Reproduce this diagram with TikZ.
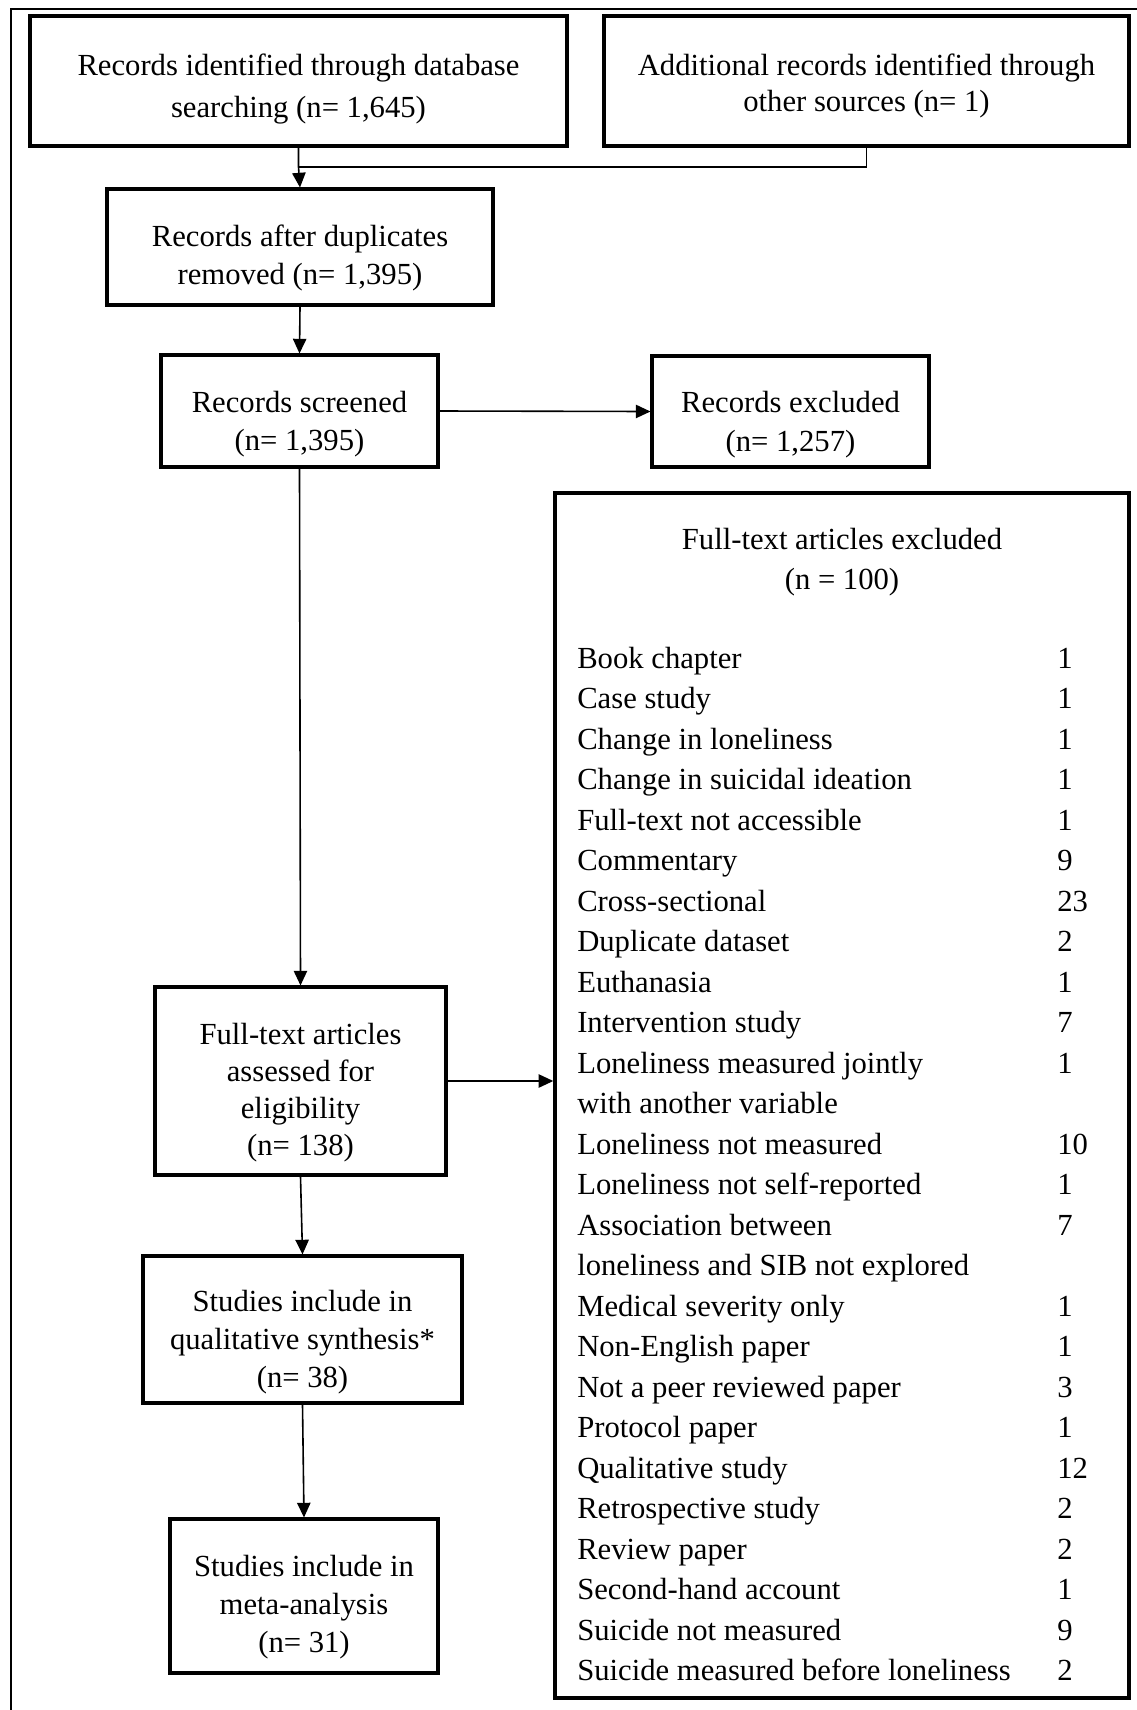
\documentclass[tikz,border=0pt]{standalone}
\usepackage{fontspec}
\setmainfont{Liberation Serif}
\usetikzlibrary{arrows.meta}

% Draws a framed box from its corner coordinates (x1,y1)-(x2,y2),
% with its text set a little below the box centre (#8 = drop in px)
\newcommand\flowbox[8][]{%
  \node[boxstyle, #1,
        minimum width={(#5-#3)*0.75pt},
        minimum height={(#6-#4)*0.75pt}]
    (#2) at ({(#3+#5)/2},{(#4+#6)/2}) {};
  \node[boxtext, #1] (#2text) at ({(#3+#5)/2},{(#4+#6)/2+#8}) {#7};}

\begin{document}
\begin{tikzpicture}[x=0.75pt, y=-0.75pt,
  boxstyle/.style={draw, line width=2.3pt, inner sep=0pt},
  boxtext/.style={draw=none, inner sep=0pt, align=center,
    font=\fontsize{23}{28.5}\selectfont},
  link/.style={line width=1.2pt},
  arrowlink/.style={link, -{Triangle[length=11pt, width=10pt]}},
  listtext/.style={anchor=base west, inner sep=0pt,
    font=\fontsize{23}{30}\selectfont}]

\useasboundingbox (0,0) rectangle (1137,1710);

% page frame (top and left edges)
\draw[line width=1.3pt] (11,1710) -- (11,9) -- (1137,9);

% identification
\flowbox[font=\fontsize{23}{31}\selectfont]{ident}{30}{16}{567}{146}{Records identified through database\\searching (n= 1,645)}{8}
\flowbox[font=\fontsize{23}{27}\selectfont]{other}{604}{16}{1129}{146}{Additional records identified through\\other sources (n= 1)}{5}

% screening
\flowbox{dedup}{107}{189}{493}{305}{Records after duplicates\\removed (n= 1,395)}{11}
\flowbox[font=\fontsize{23}{29}\selectfont]{screen}{161}{355}{438}{467}{Records screened\\(n= 1,395)}{13}
\flowbox[font=\fontsize{23}{29}\selectfont]{recexcl}{652}{356}{929}{467}{Records excluded\\(n= 1,257)}{13}

% eligibility and inclusion
\flowbox[font=\fontsize{23}{27.8}\selectfont]{assess}{155}{987}{446}{1175}{Full-text articles\\assessed for\\eligibility\\(n= 138)}{12}
\flowbox{qual}{143}{1256}{462}{1403}{Studies include in\\qualitative synthesis*\\(n= 38)}{13}
\flowbox{meta}{170}{1519}{438}{1673}{Studies include in\\meta-analysis\\(n= 31)}{11}

% full-text exclusions
\node[boxstyle, line width=2.6pt, minimum width={574*0.75pt},
      minimum height={1205*0.75pt}] (ftexcl) at (842,1095.5) {};
\node[align=center, inner sep=0pt, font=\fontsize{23}{30}\selectfont]
  (fttitle) at (842,562) {Full-text articles excluded\\(n = 100)};

\foreach \i/\reason/\count in {
  0/Book chapter/1,
  1/Case study/1,
  2/Change in loneliness/1,
  3/Change in suicidal ideation/1,
  4/Full-text not accessible/1,
  5/Commentary/9,
  6/Cross-sectional/23,
  7/Duplicate dataset/2,
  8/Euthanasia/1,
  9/Intervention study/7,
  10/Loneliness measured jointly/1,
  11/with another variable/{},
  12/Loneliness not measured/10,
  13/Loneliness not self-reported/1,
  14/Association between/7,
  15/loneliness and SIB not explored/{},
  16/Medical severity only/1,
  17/Non-English paper/1,
  18/Not a peer reviewed paper/3,
  19/Protocol paper/1,
  20/Qualitative study/12,
  21/Retrospective study/2,
  22/Review paper/2,
  23/Second-hand account/1,
  24/Suicide not measured/9,
  25/Suicide measured before loneliness/2}{
  \node[listtext] (reason\i) at (577,{668+40.5*\i}) {\reason};
  \node[listtext] (count\i) at (1057,{668+40.5*\i}) {\count};
}

% connectors
\coordinate (merge) at (ident.south |- 0,167);
\draw[link] (other.south) |- (merge);
\draw[arrowlink] (ident.south) -- (merge) -- (dedup.north);
\draw[arrowlink] (dedup.south) -- (screen.north);
\draw[arrowlink] (screen.east) -- (recexcl.west);
\draw[arrowlink] (screen.south) -- (assess.north);
\draw[arrowlink] (assess.east) -- (assess.east -| ftexcl.west);
\draw[arrowlink] (assess.south) -- (qual.north);
\draw[arrowlink] (qual.south) -- (meta.north);

\end{tikzpicture}
\end{document}
